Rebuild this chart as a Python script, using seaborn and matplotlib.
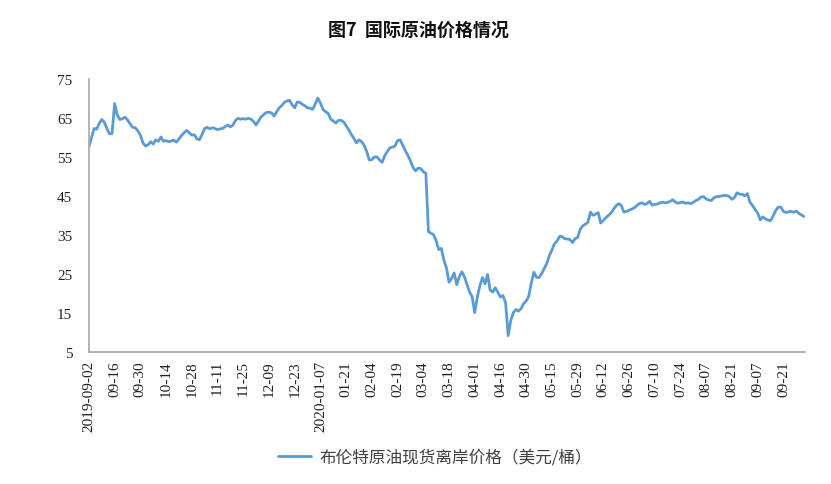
import numpy as np
import pandas as pd
import matplotlib
matplotlib.use("Agg")
import matplotlib.pyplot as plt
import seaborn as sns

# 布伦特原油现货离岸价格，按交易日排列（美元/桶）
prices = [
    57.7, 59.9, 62.3, 62.1, 63.6, 64.6, 63.9, 62.3, 60.9, 61.0,
    68.7, 65.8, 64.6, 64.8, 65.2, 64.5, 63.5, 62.6, 62.5, 61.7,
    60.6, 58.6, 57.8, 58.1, 58.9, 58.3, 59.4, 59.0, 60.1, 59.0,
    59.2, 58.9, 59.1, 59.3, 58.8, 59.6, 60.5, 61.2, 61.8, 61.2,
    60.6, 60.7, 59.6, 59.4, 60.8, 62.3, 62.6, 62.2, 62.5, 62.3,
    62.0, 62.2, 62.3, 62.8, 63.2, 62.7, 63.2, 64.4, 64.9, 64.7,
    64.8, 64.7, 64.9, 64.7, 64.1, 63.2, 64.3, 65.3, 65.9, 66.4,
    66.5, 66.3, 65.5, 66.6, 67.6, 68.2, 69.0, 69.4, 69.5, 68.4,
    67.6, 69.1, 69.0, 68.5, 68.1, 67.6, 67.5, 67.2, 68.6, 70.1,
    68.8, 67.2, 66.6, 66.2, 64.7, 64.2, 63.7, 64.4, 64.4, 64.0,
    63.0, 62.0, 60.8, 59.8, 58.6, 59.4, 58.9, 58.0, 56.4, 54.2,
    54.3, 55.0, 55.0, 54.2, 53.6, 55.3, 56.4, 57.3, 57.5, 57.8,
    59.2, 59.4, 58.0, 56.6, 55.4, 54.0, 52.3, 51.4, 52.1, 52.0,
    51.2, 50.8, 35.8, 35.4, 35.0, 33.5, 31.2, 31.5, 28.5, 26.5,
    22.8, 23.8, 25.2, 22.2, 24.2, 25.5, 24.2, 22.2, 20.3, 19.1,
    15.0, 19.0, 21.9, 24.0, 22.4, 24.8, 20.8, 20.3, 21.4, 20.2,
    19.0, 19.4, 17.5, 9.1, 13.0, 15.0, 15.8, 15.4, 16.0, 17.3,
    18.0, 19.2, 22.6, 25.4, 24.1, 24.0, 25.0, 26.3, 27.6, 29.6,
    31.1, 32.7, 33.4, 34.6, 34.5, 34.0, 33.9, 33.8, 33.0, 34.0,
    34.3, 36.4, 37.3, 37.7, 38.2, 40.8, 40.0, 40.3, 40.7, 38.0,
    38.7, 39.4, 40.0, 40.6, 41.6, 42.5, 43.0, 42.5, 40.8, 41.0,
    41.3, 41.6, 41.9, 42.5, 43.0, 43.2, 42.8, 43.0, 43.6, 42.6,
    42.8, 42.9, 43.2, 43.4, 43.2, 43.3, 43.6, 44.0, 43.4, 43.1,
    43.3, 43.4, 43.1, 43.2, 43.0, 43.4, 43.8, 44.1, 44.7, 44.8,
    44.2, 43.9, 43.8, 44.5, 44.8, 44.8, 45.0, 45.1, 45.1, 44.8,
    44.1, 44.6, 45.8, 45.4, 45.4, 45.0, 45.6, 43.4, 42.5, 41.5,
    40.6, 38.8, 39.6, 39.1, 38.8, 38.6, 39.8, 41.2, 42.1, 42.1,
    41.0, 40.7, 40.9, 41.0, 40.8, 41.1, 40.5, 40.1, 39.7,
]

# 每隔10个交易日标注一次日期
tick_labels = [
    "2019-09-02", "09-16", "09-30", "10-14", "10-28", "11-11", "11-25",
    "12-09", "12-23", "2020-01-07", "01-21", "02-04", "02-19", "03-04",
    "03-18", "04-01", "04-16", "04-30", "05-15", "05-29", "06-12",
    "06-26", "07-10", "07-24", "08-07", "08-21", "09-07", "09-21",
]
y_ticks = [5, 15, 25, 35, 45, 55, 65, 75]

series_name = "布伦特原油现货离岸价格（美元/桶）"
title = "图7  国际原油价格情况"

df = pd.DataFrame({"day": np.arange(len(prices)), "price": prices})

sns.set_theme(style="white")
plt.rcParams["font.family"] = ["Noto Sans CJK SC", "DejaVu Sans"]

fig = plt.figure(figsize=(8.31, 4.85), dpi=100)
ax = fig.add_axes([0.107, 0.273, 0.862, 0.562])

sns.lineplot(data=df, x="day", y="price", ax=ax, color="#5B9BD5",
             linewidth=2.0, label=series_name, legend=False)

ax.set_xlim(0, 278.5)
ax.set_ylim(5, 75)
ax.set_xticks(np.arange(0, len(prices), 10))
ax.set_xticklabels(tick_labels, rotation=90, family="Liberation Serif",
                   fontsize=11, color="#222222")
ax.set_yticks(y_ticks)
ax.set_yticklabels([str(v) for v in y_ticks], family="Liberation Serif",
                   fontsize=11, color="#222222")
ax.set_xlabel("")
ax.set_ylabel("")

for side in ["top", "right"]:
    ax.spines[side].set_visible(False)
for side in ["left", "bottom"]:
    ax.spines[side].set_color("#a6a6a6")
    ax.spines[side].set_linewidth(1.2)
ax.tick_params(axis="x", direction="in", length=4, width=1, color="#a6a6a6", pad=6)
ax.tick_params(axis="y", direction="in", length=4, width=1, color="#a6a6a6", pad=12)

fig.text(0.503, 0.938, title, ha="center", va="center", fontsize=13,
         fontweight="bold", color="#111111")

handles, labels = ax.get_legend_handles_labels()
fig.legend(handles, labels, loc="center", bbox_to_anchor=(0.523, 0.056),
           frameon=False, fontsize=12, handlelength=2.0, handletextpad=0.5,
           labelcolor="#404040")

fig.savefig("out.png", dpi=100)
